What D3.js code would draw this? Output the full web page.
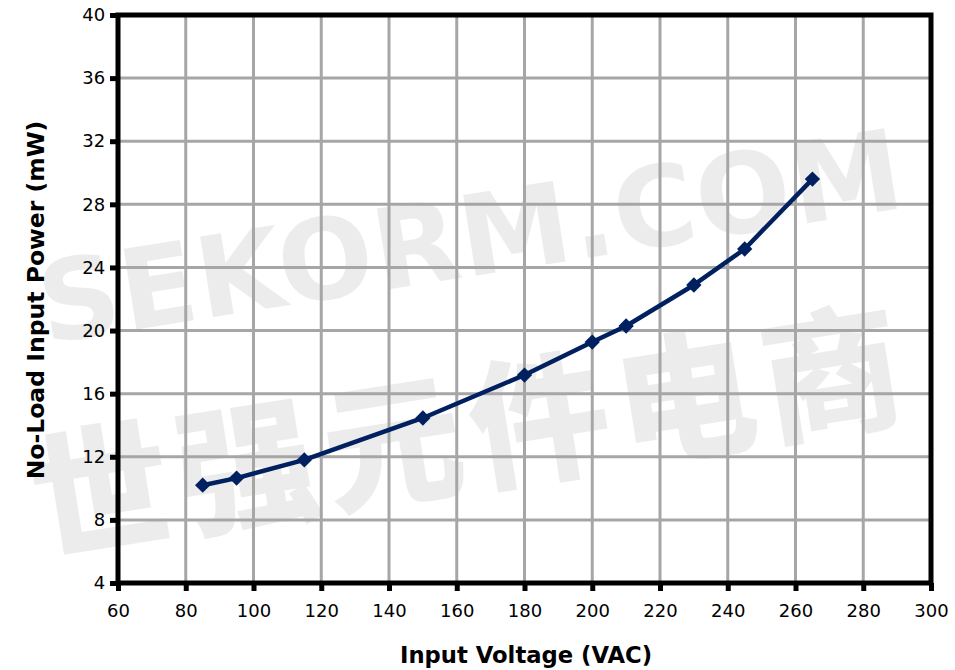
<!DOCTYPE html>
<html><head><meta charset="utf-8">
<script src="https://cdn.jsdelivr.net/npm/d3@7"></script>
<style>body{margin:0;background:#fff}svg{display:block}</style>
</head><body>
<svg id="c" width="955" height="670"></svg>
<script>
const voltage = [85, 95, 115, 150, 180, 200, 210, 230, 245, 265];
const power = [10.2, 10.65, 11.8, 14.46, 17.18, 19.27, 20.29, 22.89, 25.17, 29.6];
const xTicks = [60, 80, 100, 120, 140, 160, 180, 200, 220, 240, 260, 280, 300];
const yTicks = [4, 8, 12, 16, 20, 24, 28, 32, 36, 40];

const svg = d3.select("#c");
const L = 118, R = 931, T = 15, B = 583;
const x = d3.scaleLinear().domain([60, 300]).range([L, R]);
const y = d3.scaleLinear().domain([4, 40]).range([B, T]);
const font = "DejaVu Sans, Verdana, sans-serif";

// watermark
const wm = svg.append("g").attr("fill", "#000").attr("fill-opacity", 0.075)
  .attr("font-family", font).attr("font-weight", "bold");
wm.append("text").attr("transform", "translate(472,245) rotate(-9)")
  .attr("text-anchor", "middle").attr("dominant-baseline", "middle")
  .attr("font-size", 112).attr("letter-spacing", 1).text("SEKORM.COM");
wm.append("text").attr("transform", "translate(472,445) rotate(-9)")
  .attr("text-anchor", "middle").attr("dominant-baseline", "middle")
  .attr("font-family", "Noto Sans CJK SC").attr("font-weight", 900)
  .attr("font-size", 140).attr("letter-spacing", 8).text("世强元件电商");

// grid
const grid = svg.append("g").attr("stroke", "#a6a6a6").attr("stroke-width", 3);
grid.selectAll(".gx").data(xTicks.slice(1, -1)).join("line")
  .attr("x1", d => x(d)).attr("x2", d => x(d)).attr("y1", T).attr("y2", B);
grid.selectAll(".gy").data(yTicks.slice(1, -1)).join("line")
  .attr("y1", d => y(d)).attr("y2", d => y(d)).attr("x1", L).attr("x2", R);

// axes
const xAxis = d3.axisBottom(x).tickValues(xTicks).tickSize(8).tickSizeOuter(0).tickFormat(d3.format("d"));
const yAxis = d3.axisLeft(y).tickValues(yTicks).tickSize(8).tickSizeOuter(0).tickFormat(d3.format("d"));
const gx = svg.append("g").attr("transform", `translate(0,${B})`).call(xAxis);
const gy = svg.append("g").attr("transform", `translate(${L},0)`).call(yAxis);
[gx, gy].forEach(g => {
  g.select(".domain").remove();
  g.selectAll(".tick line").attr("stroke", "#000").attr("stroke-width", 5);
  g.selectAll(".tick text").attr("font-family", font).attr("font-size", 18).attr("fill", "#000");
});
gx.selectAll(".tick text").attr("dy", "1.25em");
gy.selectAll(".tick text").attr("dx", "-0.1em");

// frame
svg.append("rect").attr("x", L).attr("y", T).attr("width", R - L).attr("height", B - T)
  .attr("fill", "none").attr("stroke", "#000").attr("stroke-width", 5);

// line
const pts = voltage.map((v, i) => [v, power[i]]);
svg.append("path").datum(pts)
  .attr("d", d3.line().x(d => x(d[0])).y(d => y(d[1])))
  .attr("fill", "none").attr("stroke", "#002060").attr("stroke-width", 4.5).attr("stroke-linejoin", "round");
svg.selectAll(".m").data(pts).join("path")
  .attr("transform", d => `translate(${x(d[0])},${y(d[1])})`)
  .attr("d", d3.symbol(d3.symbolDiamond2, 150)())
  .attr("fill", "#002060");

// titles
svg.append("text").attr("x", 526).attr("y", 663).attr("text-anchor", "middle")
  .attr("font-family", font).attr("font-weight", "bold").attr("font-size", 22.7).text("Input Voltage (VAC)");
svg.append("text").attr("transform", `translate(44,300) rotate(-90)`).attr("text-anchor", "middle")
  .attr("font-family", font).attr("font-weight", "bold").attr("font-size", 23.5).text("No-Load Input Power (mW)");
</script>
</body></html>
